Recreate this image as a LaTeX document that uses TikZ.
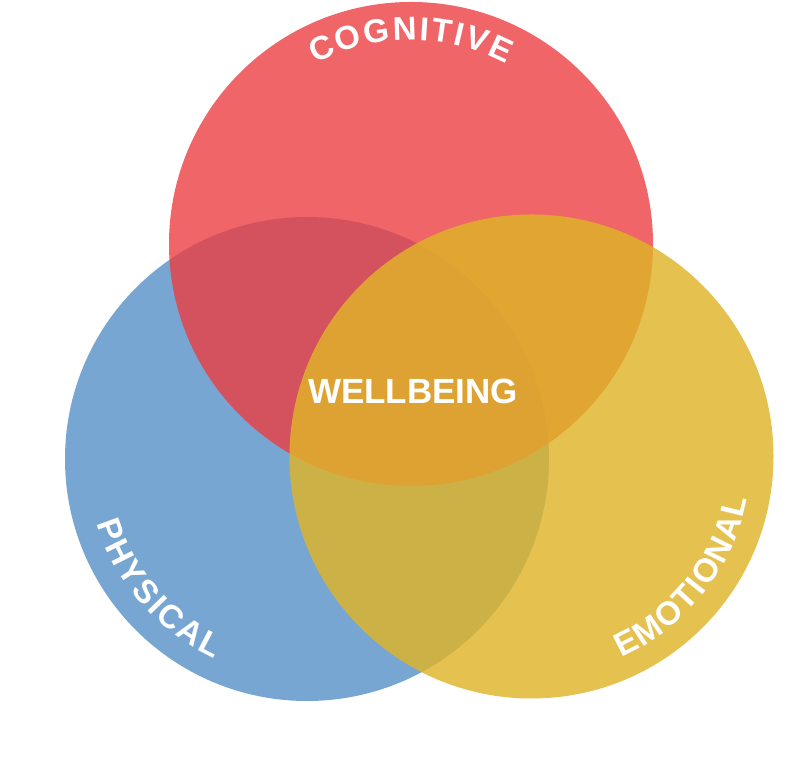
\documentclass[tikz,border=0pt]{standalone}
\usepackage{fontspec}
\setmainfont{Liberation Sans}
\usetikzlibrary{decorations.text}
\definecolor{WBblue}{RGB}{120,166,211}
\definecolor{WBred}{RGB}{236,62,65}
\definecolor{WByellow}{RGB}{223,180,40}
\tikzset{
  arclabel/.style={decorate, decoration={text along path, text color=white,
    text align=fit to path, text={|\fontsize{33}{33}\selectfont\bfseries|#1}}}
}
\begin{document}
\begin{tikzpicture}[x=1pt,y=1pt]
  \useasboundingbox (0,0) rectangle (790,775);
  % the three circles
  \fill[WBblue] (307,316) circle (242pt);
  \fill[WBred, opacity=0.8] (411,531) circle (242pt);
  \fill[WByellow, opacity=0.82] (531.5,318.5) circle (242pt);
  % labels along the rims
  \path[arclabel=COGNITIVE] (411,531) ++(118:204pt) arc[start angle=118, end angle=62, radius=204pt];
  \path[arclabel=PHYSICAL] (307,316) ++(197:220pt) arc[start angle=197, end angle=245, radius=220pt];
  \path[arclabel=EMOTIONAL] (531.5,318.5) ++(294:220pt) arc[start angle=294, end angle=349, radius=220pt];
  \node[white, font=\fontsize{35}{35}\selectfont\bfseries] (wellbeing) at (413,384) {WELLBEING};
\end{tikzpicture}
\end{document}
